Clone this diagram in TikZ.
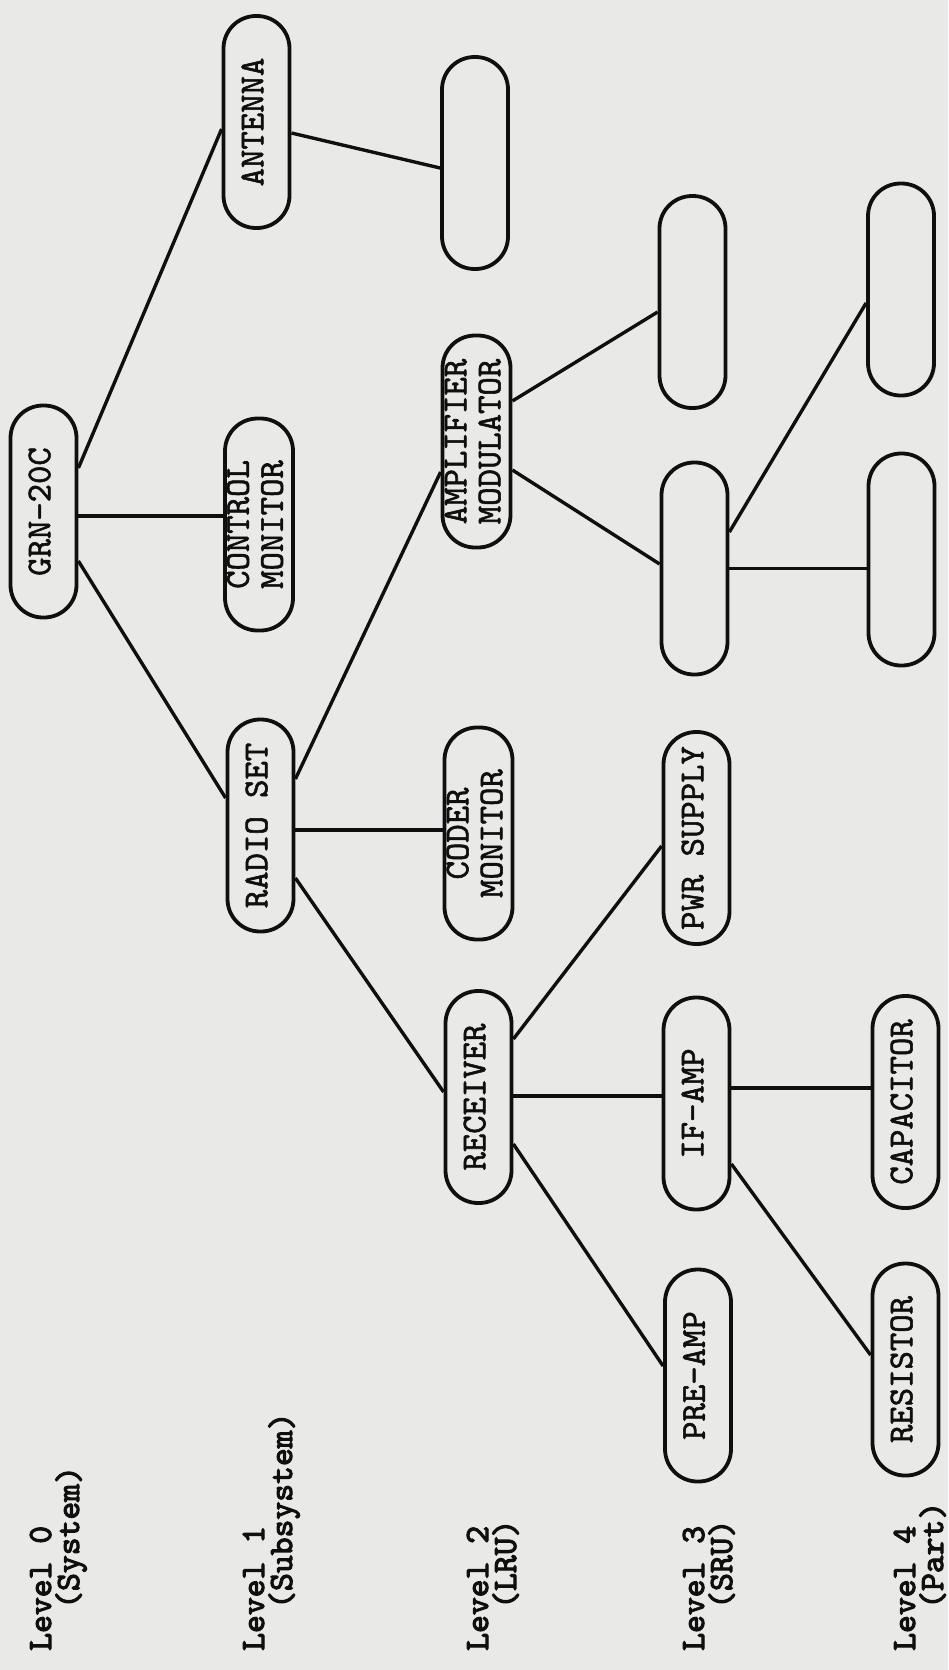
\documentclass[tikz,border=0pt]{standalone}
\usepackage{graphicx}
\usepackage{fontspec}
\newfontfamily\boxface{lmmono10-regular}[Extension=.otf, FakeBold=1.6]
\newfontfamily\lblface{lmmono10-regular}[Extension=.otf, FakeBold=3.2]
\definecolor{paper}{RGB}{233,233,231}
\definecolor{ink}{RGB}{15,15,15}
\newcommand\vtext[1]{\rotatebox{90}{\begin{tabular}{@{}c@{}}#1\end{tabular}}}
\begin{document}
\begin{tikzpicture}[x=1pt,y=1pt,
  box/.style={draw=ink, line width=3.8pt, rounded corners=32.5pt, minimum width=66pt,
    minimum height=212pt, inner sep=0pt, text=ink, font=\boxface\fontsize{35}{34}\selectfont},
  link/.style={draw=ink, line width=3.4pt},
  lvl/.style={rotate=90, anchor=base west, inner sep=0pt, text=ink,
    font=\lblface\fontsize{34}{34}\selectfont}]
\fill[paper] (0,0) rectangle (948,-1670);
\useasboundingbox (0,0) rectangle (948,-1670);

% level 0
\node[box] (grn) at (43.5,-511.5) {\vtext{GRN-20C}};
% level 1
\node[box] (ant) at (256.5,-122) {\vtext{ANTENNA}};
\node[box] (ctl) at (259,-524.5) {\vtext{CONTROL\\MONITOR}};
\node[box] (rad) at (260.5,-825.5) {\vtext{RADIO SET}};
% level 2
\node[box] (bl2) at (475,-163) {};
\node[box] (amp) at (476.5,-441.5) {\vtext{AMPLIFIER\\MODULATOR}};
\node[box] (cod) at (478.5,-833.5) {\vtext{CODER\\MONITOR}};
\node[box] (rec) at (478.5,-1097) {\vtext{RECEIVER}};
% level 3
\node[box] (bl3a) at (692.5,-302) {};
\node[box] (bl3b) at (694.5,-568.5) {};
\node[box] (pwr) at (696.5,-838) {\vtext{PWR SUPPLY}};
\node[box] (ifa) at (696.5,-1103.5) {\vtext{IF-AMP}};
\node[box] (pre) at (698,-1375.5) {\vtext{PRE-AMP}};
% level 4
\node[box] (bl4a) at (901,-289.5) {};
\node[box] (bl4b) at (901.5,-559.5) {};
\node[box] (cap) at (905.5,-1102) {\vtext{CAPACITOR}};
\node[box] (res) at (905.5,-1369.5) {\vtext{RESISTOR}};

% connectors
\draw[link] ([yshift=43.5pt]grn.east) -- ([yshift=-7pt]ant.west);
\draw[link] ([yshift=-4.5pt]grn.east) -- ([yshift=-4.5pt]grn.east -| ctl.west);
\draw[link] ([yshift=-49.5pt]grn.east) -- ([yshift=27.5pt]rad.west);
\draw[link] ([yshift=-11pt]ant.east) -- ([yshift=-5pt]bl2.west);
\draw[link] ([yshift=46.5pt]rad.east) -- ([yshift=-30.5pt]amp.west);
\draw[link] ([yshift=-4.5pt]rad.east) -- ([yshift=-4.5pt]rad.east -| cod.west);
\draw[link] ([yshift=-52.5pt]rad.east) -- ([yshift=5pt]rec.west);
\draw[link] ([yshift=40.5pt]amp.east) -- ([yshift=-10pt]bl3a.west);
\draw[link] ([yshift=-28.5pt]amp.east) -- ([yshift=4.5pt]bl3b.west);
\draw[link] ([yshift=36.5pt]bl3b.east) -- ([yshift=-13.5pt]bl4a.west);
\draw[link] (bl3b.east) -- (bl3b.east -| bl4b.west);
\draw[link] ([yshift=58pt]rec.east) -- ([yshift=-8pt]pwr.west);
\draw[link] ([yshift=1pt]rec.east) -- ([yshift=1pt]rec.east -| ifa.west);
\draw[link] ([yshift=15.5pt]ifa.east) -- ([yshift=15.5pt]ifa.east -| cap.west);
\draw[link] ([yshift=-47pt]rec.east) -- ([yshift=9.5pt]pre.west);
\draw[link] ([yshift=-60.5pt]ifa.east) -- ([yshift=14.5pt]res.west);

% level labels
\node[lvl] (l0a) at (51,-1651) {Level 0};
\node[lvl] (l0b) at (79,-1609) {(System)};
\node[lvl] (l1a) at (264,-1651) {Level 1};
\node[lvl] (l1b) at (292,-1609) {(Subsystem)};
\node[lvl] (l2a) at (488,-1651) {Level 2};
\node[lvl] (l2b) at (516,-1609) {(LRU)};
\node[lvl] (l3a) at (704,-1651) {Level 3};
\node[lvl] (l3b) at (732,-1609) {(SRU)};
\node[lvl] (l4a) at (915,-1651) {Level 4};
\node[lvl] (l4b) at (943,-1609) {(Part)};
\end{tikzpicture}
\end{document}
